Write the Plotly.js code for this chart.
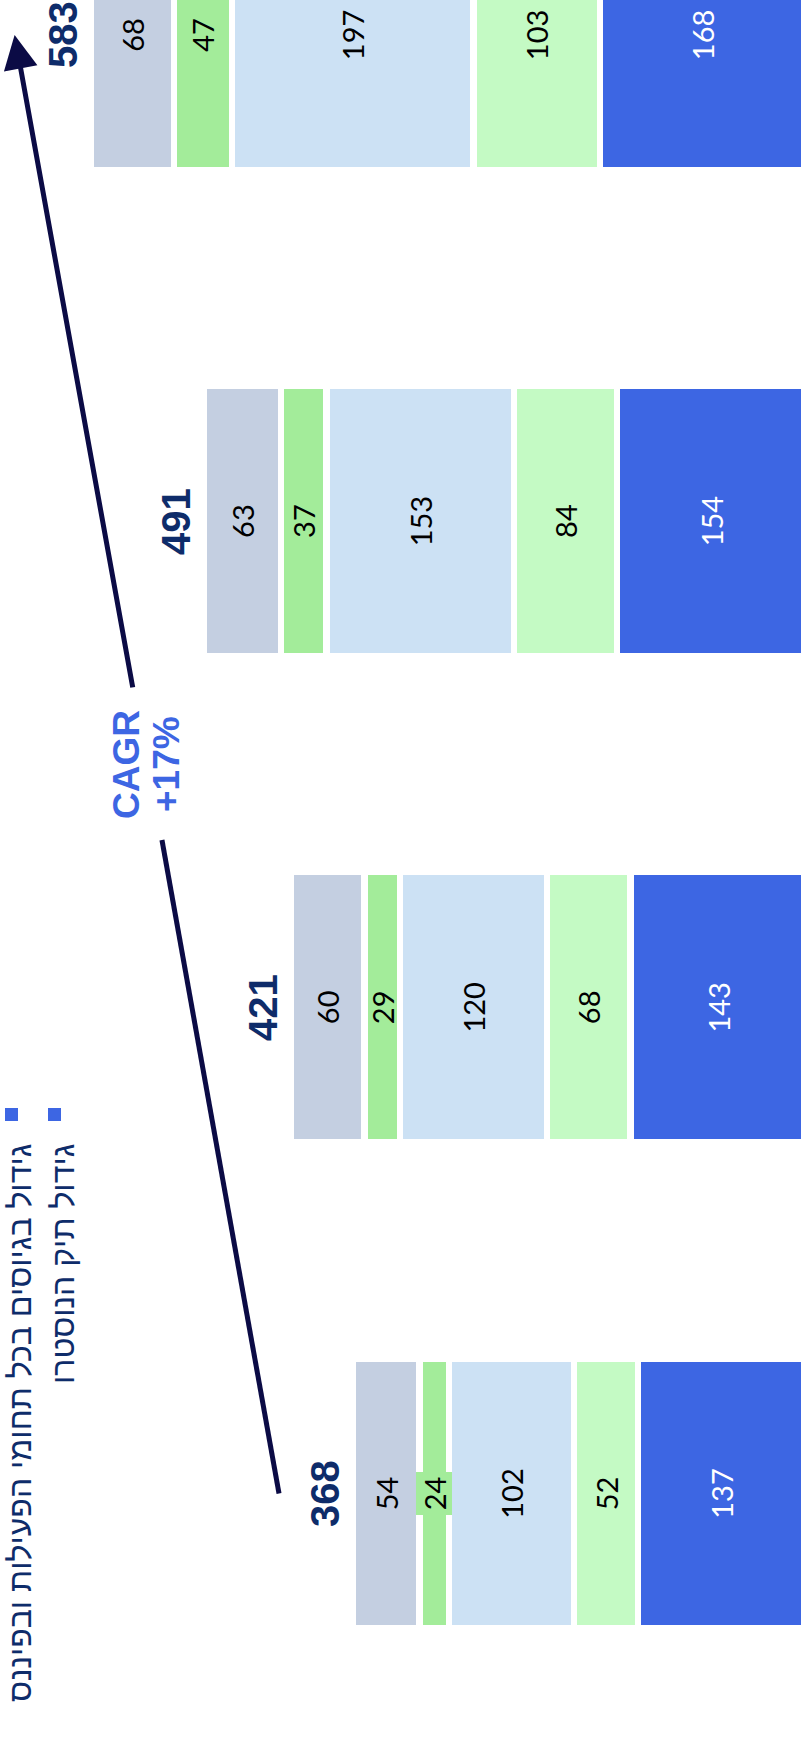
<!DOCTYPE html>
<html><head><meta charset="utf-8">
<script src="https://cdn.plot.ly/plotly-3.0.1.min.js"></script>
<style>
html,body{margin:0;padding:0;background:#fff;overflow:hidden;}
#frame{position:relative;width:801px;height:1746px;overflow:hidden;background:#fff;}
#chart{position:absolute;left:0;top:0;width:1746px;height:801px;transform-origin:0 0;transform:translateY(1746px) rotate(-90deg);}
</style></head><body>
<div id="frame"><div id="chart"></div></div>
<script>
// ---- data ----
const categories = ['P1', 'P2', 'P3', 'P4'];
const totalLabels = ['368', '421', '491', '583'];
const seriesBlue = [137, 143, 154, 168];
const seriesLightGreen = [52, 68, 84, 103];
const seriesLightBlue = [102, 120, 153, 197];
const seriesGreen = [24, 29, 37, 47];
const seriesGray = [54, 60, 63, 68];
const legendLabels = ['גידול בגיוסים בכל תחומי הפעילות ובפיננס', 'גידול תיק הנוסטרו'];
const cagrLines = ['CAGR', '+17%'];

// ---- layout helpers ----
const W = 1746, H = 801;
const px = x => x / W;
const py = y => 1 - y / H;
const NAVY = '#0E2C6A';
const BLUE = '#3D66E3';
const ARROW = '#0B0B45';
const labelFont = {family: 'Lato, "Open Sans", sans-serif', size: 29};

function barTrace(vals, color, textColor, skip) {
  return {
    type: 'bar', x: categories, y: vals,
    text: vals.map((v, i) => (skip && skip.includes(i)) ? '' : String(v)),
    textposition: 'inside', insidetextanchor: 'middle', textangle: 0,
    constraintext: 'none',
    textfont: Object.assign({color: textColor}, labelFont),
    marker: {color: color, line: {color: '#ffffff', width: 6.5}},
    width: 0.556, hoverinfo: 'skip'
  };
}

const data = [
  barTrace(seriesBlue, BLUE, '#ffffff'),
  barTrace(seriesLightGreen, '#C4FAC4', '#000000'),
  barTrace(seriesLightBlue, '#CCE1F4', '#000000'),
  barTrace(seriesGreen, '#A3EC9A', '#000000', [0]),
  barTrace(seriesGray, '#C4CFE1', '#000000')
];

const sums = categories.map((c, i) => seriesBlue[i] + seriesLightGreen[i] + seriesLightBlue[i] + seriesGreen[i] + seriesGray[i]);

const annotations = [];
// totals
categories.forEach((c, i) => {
  annotations.push({
    x: i, y: sums[i], xref: 'x', yref: 'y', text: '<b>' + totalLabels[i] + '</b>',
    showarrow: false, yanchor: 'middle', xanchor: 'center', yshift: 28,
    font: {family: '"Liberation Sans", Arial, sans-serif', size: 40, color: NAVY}
  });
});
// boxed label for the thin segment
const g0 = seriesBlue[0] + seriesLightGreen[0] + seriesLightBlue[0] + seriesGreen[0] / 2;
annotations.push({
  x: 0, y: g0, xref: 'x', yref: 'y', text: String(seriesGreen[0]), showarrow: false,
  bgcolor: '#A3EC9A', width: 43, height: 36, borderpad: 0, borderwidth: 0,
  font: Object.assign({color: '#000000'}, labelFont)
});
// CAGR text
annotations.push({
  x: 1.5, y: py(126.5), xref: 'x', yref: 'paper', text: '<b>' + cagrLines[0] + '</b>', showarrow: false,
  yanchor: 'middle', font: {family: '"Liberation Sans", Arial, sans-serif', size: 37, color: BLUE}
});
annotations.push({
  x: 1.5, y: py(166.5), xref: 'x', yref: 'paper', text: '<b>' + cagrLines[1] + '</b>', showarrow: false,
  yanchor: 'middle', font: {family: '"Liberation Sans", Arial, sans-serif', size: 37, color: BLUE}
});
// arrow head segment
annotations.push({
  x: 3, y: 645, xref: 'x', yref: 'y', ax: 1.655, ay: 548.5, axref: 'x', ayref: 'y',
  text: '', showarrow: true, arrowhead: 2, arrowsize: 1.36, arrowwidth: 5, arrowcolor: ARROW, standoff: 0
});
// legend texts
legendLabels.forEach((t, i) => {
  annotations.push({
    x: px(603), y: py(20 + 43 * i), xref: 'paper', yref: 'paper', text: t, showarrow: false,
    xanchor: 'right', yanchor: 'middle', borderpad: 0,
    font: {family: '"Liberation Sans", "DejaVu Sans", sans-serif', size: 32, color: NAVY}
  });
});

const shapes = [
  {type: 'line', xref: 'x', yref: 'y', x0: 0, y0: 429.5, x1: 1.344, y1: 524.9, line: {color: ARROW, width: 5}},
  {type: 'rect', xref: 'paper', yref: 'paper', x0: px(625), x1: px(638), y0: py(18), y1: py(5), fillcolor: BLUE, line: {width: 0}},
  {type: 'rect', xref: 'paper', yref: 'paper', x0: px(625), x1: px(638), y0: py(61), y1: py(48), fillcolor: BLUE, line: {width: 0}}
];

const layout = {
  width: W, height: H,
  margin: {l: 0, r: 0, t: 0, b: 0, pad: 0},
  paper_bgcolor: '#ffffff', plot_bgcolor: '#ffffff',
  barmode: 'stack', showlegend: false,
  xaxis: {type: 'category', range: [-0.5193, 3.0718], visible: false, fixedrange: true},
  yaxis: {range: [4.07, 656.9], visible: false, fixedrange: true},
  annotations: annotations, shapes: shapes
};

Plotly.newPlot('chart', data, layout, {staticPlot: true, displayModeBar: false});
</script>
</body></html>
